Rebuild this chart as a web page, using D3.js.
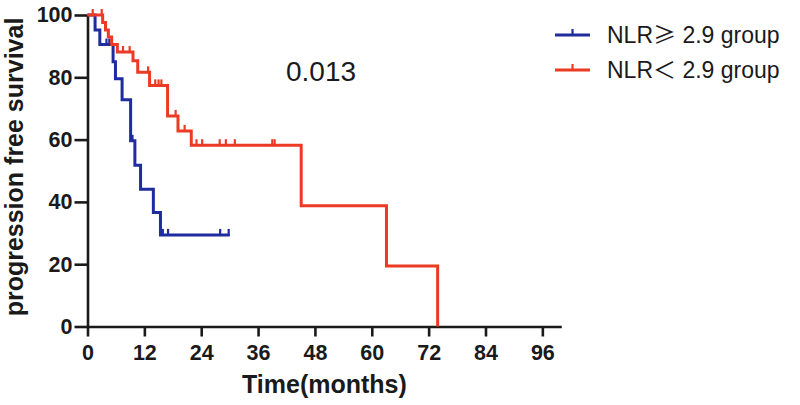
<!DOCTYPE html>
<html>
<head>
<meta charset="utf-8">
<script src="https://cdn.jsdelivr.net/npm/d3@7"></script>
<style>
  html, body { margin: 0; padding: 0; background: #fff; }
  svg { display: block; }
  text { font-family: "Liberation Sans", Arial, sans-serif; }
</style>
</head>
<body>
<svg id="chart" width="800" height="405"></svg>
<script>
// ---- data ----
const xTicks = [0, 12, 24, 36, 48, 60, 72, 84, 96];
const yTicks = [0, 20, 40, 60, 80, 100];

const seriesLabels = ["NLR", "NLR"];
const seriesSymbols = ["\u2265", "\uFF1C"];
const seriesRest = [" 2.9 group", " 2.9 group"];

// NLR >= 2.9 group (step function: time of change, survival after change)
const blueTime = [0, 1.6, 2.6, 5.4, 5.9, 7.3, 9.1, 10.0, 11.2, 13.9, 15.4, 30.0];
const blueSurv = [100, 95.2, 90.5, 85.0, 79.5, 72.8, 59.6, 51.8, 44.1, 36.6, 29.4, 29.4];
const blueCensor = [4.0, 4.6, 9.5, 15.9, 17.0, 28.0, 29.8];

// NLR < 2.9 group
const redTime = [0, 3.2, 3.8, 4.4, 5.1, 6.3, 9.6, 10.6, 13.1, 16.9, 19.1, 21.9, 45.1, 63.1, 73.9];
const redSurv = [100, 97.6, 95.2, 92.9, 90.5, 88.1, 85.3, 81.6, 77.4, 67.6, 62.8, 58.2, 38.8, 19.4, 0];
const redCensor = [1.1, 3.0, 7.5, 8.9, 12.8, 14.3, 15.0, 15.6, 18.6, 20.5, 23.0, 24.2, 27.9, 29.2, 31.1, 39.0, 39.5];

const pValue = "0.013";
const xTitle = "Time(months)";
const yTitle = "progression free survival";

// ---- drawing ----
const svg = d3.select("#chart");
const x = d3.scaleLinear().domain([0, 100]).range([87.5, 561.3]);
const y = d3.scaleLinear().domain([0, 100]).range([326.5, 15]);

const blue = "#1f2c9e";
const red = "#ec3a24";
const axisColor = "#1a1a1a";

function survAt(times, surv, t) {
  let v = surv[0];
  for (let i = 0; i < times.length; i++) { if (times[i] <= t) v = surv[i]; }
  return v;
}

const line = d3.line().x(d => x(d[0])).y(d => y(d[1])).curve(d3.curveStepAfter);

function drawSeries(times, surv, censor, color) {
  const pts = times.map((t, i) => [t, surv[i]]);
  svg.append("path").attr("d", line(pts)).attr("fill", "none")
    .attr("stroke", color).attr("stroke-width", 3).attr("stroke-linejoin", "miter");
  svg.selectAll(null).data(censor).enter().append("line")
    .attr("x1", d => x(d)).attr("x2", d => x(d))
    .attr("y1", d => y(survAt(times, surv, d)) + 1)
    .attr("y2", d => y(survAt(times, surv, d)) - 6)
    .attr("stroke", color).attr("stroke-width", 2.2);
}

// axes
const xAxis = d3.axisBottom(x).tickValues(xTicks).tickSize(10).tickPadding(8).tickSizeOuter(0);
const yAxis = d3.axisLeft(y).tickValues(yTicks).tickSize(13).tickPadding(2).tickSizeOuter(0);

const gx = svg.append("g").attr("transform", `translate(0,${y(0)})`).call(xAxis);
const gy = svg.append("g").attr("transform", `translate(${x(0)},0)`).call(yAxis);
[gx, gy].forEach(g => {
  g.select(".domain").attr("stroke", axisColor).attr("stroke-width", 2.6);
  g.selectAll(".tick line").attr("stroke", axisColor).attr("stroke-width", 2.6);
  g.selectAll(".tick text").attr("fill", "#1a1a1a")
    .style("font-family", '"Liberation Sans", Arial, sans-serif')
    .style("font-size", "21.5px").style("font-weight", "bold");
});

drawSeries(blueTime, blueSurv, blueCensor, blue);
drawSeries(redTime, redSurv, redCensor, red);

// titles
svg.append("text").attr("x", x(50)).attr("y", 393).attr("text-anchor", "middle")
  .style("font-size", "25px").style("font-weight", "bold").attr("fill", "#1a1a1a").text(xTitle);
svg.append("text").attr("transform", `translate(23,167) rotate(-90)`)
  .attr("text-anchor", "middle")
  .style("font-size", "25px").style("font-weight", "bold").attr("fill", "#1a1a1a").text(yTitle);

// p value
svg.append("text").attr("x", 321).attr("y", 81).attr("text-anchor", "middle")
  .style("font-size", "28px").attr("fill", "#1a1a1a").text(pValue);

// legend
const legendY = [35, 70];
const legendColors = [blue, red];
seriesLabels.forEach((lab, i) => {
  const ly = legendY[i];
  svg.append("line").attr("x1", 555).attr("x2", 590).attr("y1", ly).attr("y2", ly)
    .attr("stroke", legendColors[i]).attr("stroke-width", 3);
  svg.append("line").attr("x1", 572.5).attr("x2", 572.5).attr("y1", ly + 1).attr("y2", ly - 6)
    .attr("stroke", legendColors[i]).attr("stroke-width", 2.2);
  const t = svg.append("text").attr("x", 607).attr("y", ly + 8)
    .style("font-size", "23px").attr("fill", "#1a1a1a");
  t.append("tspan").text(lab);
  t.append("tspan").style("font-family", '"Noto Sans CJK SC", sans-serif').text(seriesSymbols[i]);
  t.append("tspan").text(seriesRest[i]);
});
</script>
</body>
</html>
